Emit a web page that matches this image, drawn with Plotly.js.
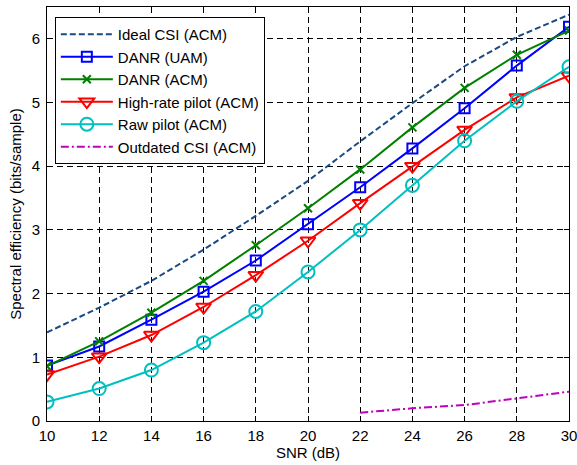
<!DOCTYPE html>
<html><head><meta charset="utf-8">
<script src="https://cdn.plot.ly/plotly-3.0.1.min.js"></script>
<style>html,body{margin:0;padding:0;background:#fff;}#chart{width:577px;height:465px;}</style>
</head><body><div id="chart"></div>
<script>
var snr = [10, 12, 14, 16, 18, 20, 22, 24, 26, 28, 30];
var idealCSI = [1.39, 1.78, 2.20, 2.69, 3.22, 3.77, 4.39, 4.99, 5.57, 6.03, 6.38];
var danrUAM = [0.87, 1.17, 1.59, 2.03, 2.52, 3.09, 3.67, 4.28, 4.91, 5.58, 6.19];
var danrACM = [0.86, 1.25, 1.70, 2.20, 2.76, 3.34, 3.95, 4.61, 5.23, 5.75, 6.13];
var highRate = [0.73, 1.01, 1.35, 1.79, 2.29, 2.83, 3.42, 4.00, 4.57, 5.08, 5.42];
var rawPilot = [0.30, 0.51, 0.80, 1.23, 1.72, 2.34, 3.00, 3.70, 4.40, 5.02, 5.56];
var snrOut = [22, 24, 26, 28, 30];
var outdated = [0.13, 0.20, 0.25, 0.35, 0.46];
var names = ['Ideal CSI (ACM)', 'DANR (UAM)', 'DANR (ACM)', 'High-rate pilot (ACM)', 'Raw pilot (ACM)', 'Outdated CSI (ACM)'];

var traces = [
  {x: snr, y: idealCSI, name: names[0], mode: 'lines', line: {color: '#1a4a80', width: 2, dash: '6px,3px'}},
  {x: snr, y: danrUAM, name: names[1], mode: 'lines+markers', line: {color: '#0000ff', width: 2},
   marker: {symbol: 'square-open', size: 10, color: '#0000ff', line: {width: 2}}},
  {x: snr, y: danrACM, name: names[2], mode: 'lines+markers', line: {color: '#008000', width: 2},
   marker: {symbol: 'x-thin-open', size: 8, color: '#008000', line: {width: 2, color: '#008000'}}},
  {x: snr, y: highRate, name: names[3], mode: 'lines+markers', line: {color: '#ff0000', width: 2},
   marker: {symbol: 'triangle-down-open', size: 13, color: '#ff0000', line: {width: 2}}},
  {x: snr, y: rawPilot, name: names[4], mode: 'lines+markers', line: {color: '#00bfbf', width: 2},
   marker: {symbol: 'circle-open', size: 13, color: '#00bfbf', line: {width: 2}}},
  {x: snrOut, y: outdated, name: names[5], mode: 'lines', line: {color: '#bf00bf', width: 2, dash: '8px,3px,2px,3px'}}
];

var fam = 'Arial, Liberation Sans, sans-serif';
var axFont = {family: fam, size: 15, color: '#000'};
var layout = {
  width: 577, height: 465,
  margin: {l: 47, r: 8, t: 7, b: 44},
  paper_bgcolor: '#fff', plot_bgcolor: '#fff',
  font: axFont,
  showlegend: true,
  legend: {x: 0.015, y: 0.976, xanchor: 'left', yanchor: 'top', bgcolor: '#fff',
           bordercolor: '#000', borderwidth: 1, font: {family: fam, size: 15, color: '#000'},
           tracegroupgap: 0, itemwidth: 52},
  xaxis: {range: [10, 30], tickvals: snr, ticktext: snr.map(String), ticks: 'inside', ticklen: 5,
          tickcolor: '#000', showline: true, linecolor: '#000', linewidth: 1, mirror: 'ticks',
          showgrid: true, gridcolor: '#000', gridwidth: 1, griddash: '6px,4px', zeroline: false,
          ticklabeloverflow: 'allow', ticklabelstandoff: 1,
          title: {text: 'SNR (dB)', font: {family: fam, size: 15}, standoff: 2}, tickfont: axFont},
  yaxis: {range: [0, 6.5], tickvals: [0, 1, 2, 3, 4, 5, 6], ticks: 'inside', ticklen: 5,
          tickcolor: '#000', showline: true, linecolor: '#000', linewidth: 1, mirror: 'ticks',
          showgrid: true, gridcolor: '#000', gridwidth: 1, griddash: '6px,4px', zeroline: false,
          ticklabelstandoff: 3,
          title: {text: 'Spectral efficiency (bits/sample)', font: {family: fam, size: 15}, standoff: 6}, tickfont: axFont}
};
Plotly.newPlot('chart', traces, layout, {displayModeBar: false, staticPlot: true});
</script></body></html>
